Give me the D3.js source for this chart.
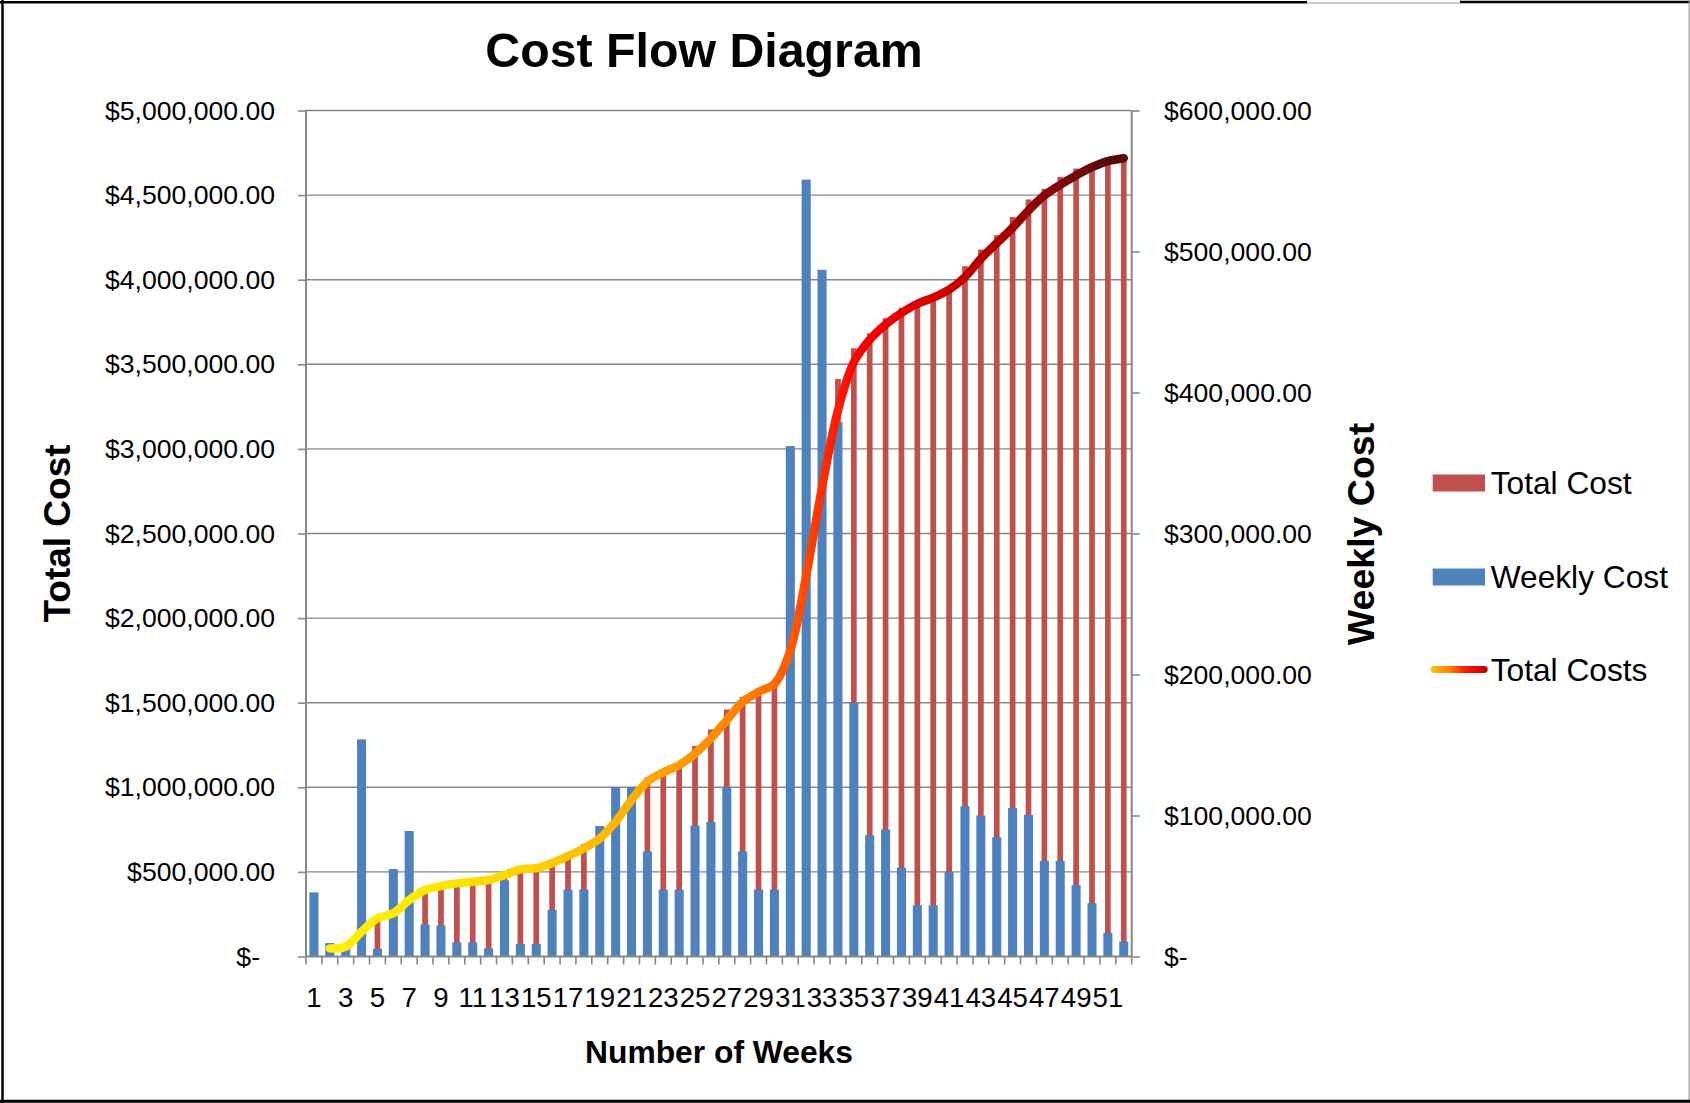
<!DOCTYPE html>
<html>
<head>
<meta charset="utf-8">
<script src="https://cdn.jsdelivr.net/npm/d3@7"></script>
<style>
  body { margin: 0; background: #fff; }
  svg { display: block; }
  text { font-family: "Liberation Sans", Arial, sans-serif; fill: #000; }
</style>
</head>
<body>
<svg id="chart" width="1690" height="1103"></svg>
<script>
// Week numbers 1..52
const weeks = d3.range(1, 53);

// Cumulative cost per week (primary axis), in dollars
const totalCost = [
  0.046, 0.052, 0.060, 0.200, 0.240, 0.290, 0.360, 0.405, 0.424, 0.437,
  0.447, 0.466, 0.500, 0.518, 0.537, 0.573, 0.615, 0.665, 0.745, 0.860,
  0.980, 1.059, 1.108, 1.150, 1.245, 1.342, 1.460, 1.535, 1.584, 1.633,
  1.990, 2.520, 3.030, 3.413, 3.595, 3.683, 3.772, 3.834, 3.863, 3.891,
  3.942, 4.080, 4.178, 4.263, 4.370, 4.474, 4.537, 4.608, 4.657, 4.687,
  4.706, 4.720
].map(v => v * 1e6);

// Spend in each week (secondary axis), in dollars
const weeklyCost = [
  45.5, 9.5, 6, 154, 5.5, 62, 89, 22.8, 22, 10,
  10, 5.8, 54, 9, 9, 33, 47.5, 47.5, 92.5, 120,
  120, 74.5, 47.5, 47.5, 92.9, 95.5, 120, 74.5, 47.5, 47.5,
  362, 551, 487, 379, 180, 86, 90, 63, 36.4, 36.4,
  60, 106.6, 100, 84.6, 105.4, 100.5, 67.8, 67.8, 50.6, 37.8,
  16.8, 10.6
].map(v => v * 1e3);

// Running total curve, weeks 2..52 (no point for week 1)
const lineWeeks = d3.range(2, 53);
const totalCostsLine = [
  0.048, 0.058, 0.147, 0.226, 0.255, 0.334, 0.393, 0.416, 0.432,
  0.442, 0.452, 0.481, 0.515, 0.522, 0.552, 0.594, 0.639, 0.698, 0.796,
  0.925, 1.033, 1.088, 1.131, 1.200, 1.289, 1.397, 1.505, 1.564, 1.612,
  1.810, 2.253, 2.775, 3.228, 3.513, 3.645, 3.735, 3.803, 3.858, 3.894,
  3.941, 4.016, 4.124, 4.216, 4.307, 4.409, 4.498, 4.561, 4.616, 4.665,
  4.701, 4.718
].map(v => v * 1e6);

// Tick values
const leftTicks = d3.range(0, 5000001, 500000);
const rightTicks = d3.range(0, 600001, 100000);
const xLabelWeeks = weeks.filter(w => w % 2 === 1);

const legendItems = ["Total Cost", "Weekly Cost", "Total Costs"];

const BLUE = "#4F81BD", RED = "#C0504D", GRID = "#878787";

const svg = d3.select("#chart");
const W = 1690, H = 1103;
const plot = { left: 306, right: 1131.7, top: 110.5, bottom: 956.5 };

const x = d3.scaleBand().domain(weeks).range([plot.left, plot.right]).paddingInner(0).paddingOuter(0);
const yL = d3.scaleLinear().domain([0, 5000000]).range([plot.bottom, plot.top]);
const yR = d3.scaleLinear().domain([0, 600000]).range([plot.bottom, plot.top]);
const bw = x.bandwidth();
const cx = w => x(w) + bw / 2;

// Frame around the whole figure
svg.append("rect").attr("width", W).attr("height", H).attr("fill", "#fff");
const frame = svg.append("g");
frame.append("line").attr("x1", 2.5).attr("x2", 2.5).attr("y1", 0).attr("y2", H)
  .attr("stroke", "#000").attr("stroke-width", 2.5);
frame.append("line").attr("x1", 0).attr("x2", 1307).attr("y1", 2.2).attr("y2", 2.2)
  .attr("stroke", "#000").attr("stroke-width", 2.5);
frame.append("line").attr("x1", 1307).attr("x2", 1460).attr("y1", 3).attr("y2", 3)
  .attr("stroke", "#9a9a9a").attr("stroke-width", 1);
frame.append("line").attr("x1", 1460).attr("x2", W).attr("y1", 2).attr("y2", 2)
  .attr("stroke", "#000").attr("stroke-width", 2.5);
frame.append("line").attr("x1", W - 0.8).attr("x2", W - 0.8).attr("y1", 0).attr("y2", H)
  .attr("stroke", "#9a9a9a").attr("stroke-width", 1.2);
frame.append("line").attr("x1", 0).attr("x2", W).attr("y1", H - 1.8).attr("y2", H - 1.8)
  .attr("stroke", "#000").attr("stroke-width", 3);

// Gradient for the running total line
const defs = svg.append("defs");
const grad = defs.append("linearGradient").attr("id", "costGrad")
  .attr("gradientUnits", "userSpaceOnUse")
  .attr("x1", cx(lineWeeks[0])).attr("x2", cx(lineWeeks[lineWeeks.length - 1]))
  .attr("y1", 0).attr("y2", 0);
const stops = [
  [0, "#FFF200"], [0.14, "#FFE600"], [0.26, "#FFD000"], [0.36, "#FFB400"],
  [0.46, "#FF9600"], [0.54, "#FF7800"], [0.59, "#FF5200"], [0.63, "#FF2400"],
  [0.67, "#FA0000"], [0.76, "#D40000"], [0.86, "#A20000"], [0.94, "#700A0A"], [1, "#4E0A0A"]
];
stops.forEach(([o, c]) => grad.append("stop").attr("offset", o).attr("stop-color", c));

const legGrad = defs.append("linearGradient").attr("id", "legGrad")
  .attr("x1", 0).attr("x2", 1).attr("y1", 0).attr("y2", 0);
[[0, "#FFC400"], [0.3, "#FF8A00"], [0.6, "#FF1E00"], [0.85, "#E00000"], [1, "#B00000"]]
  .forEach(([o, c]) => legGrad.append("stop").attr("offset", o).attr("stop-color", c));

// Horizontal gridlines
svg.append("g").selectAll("line").data(leftTicks.slice(1)).join("line")
  .attr("x1", plot.left).attr("x2", plot.right)
  .attr("y1", d => yL(d)).attr("y2", d => yL(d))
  .attr("stroke", GRID).attr("stroke-width", 1.4);

// Total cost bars (primary axis)
const redW = bw * 0.36;
svg.append("g").selectAll("rect").data(weeks).join("rect")
  .attr("x", w => cx(w) - redW / 2).attr("width", redW)
  .attr("y", (w, i) => yL(totalCost[i]))
  .attr("height", (w, i) => yL(0) - yL(totalCost[i]))
  .attr("fill", RED);

// Weekly cost bars (secondary axis)
const blueW = bw * 0.57;
svg.append("g").selectAll("rect").data(weeks).join("rect")
  .attr("x", w => cx(w) - blueW / 2).attr("width", blueW)
  .attr("y", (w, i) => yR(weeklyCost[i]))
  .attr("height", (w, i) => yR(0) - yR(weeklyCost[i]))
  .attr("fill", BLUE);

// Axes
const moneyFmt = d3.format("$,.2f");
const fmt = v => v === 0 ? "$-" : moneyFmt(v);

const leftAxis = svg.append("g").attr("transform", `translate(${plot.left},0)`)
  .call(d3.axisLeft(yL).tickValues(leftTicks).tickFormat(fmt).tickSize(8).tickPadding(23));
const rightAxis = svg.append("g").attr("transform", `translate(${plot.right},0)`)
  .call(d3.axisRight(yR).tickValues(rightTicks).tickFormat(fmt).tickSize(8).tickPadding(24.3));
[leftAxis, rightAxis].forEach(g => {
  g.select(".domain").attr("stroke", GRID).attr("stroke-width", 2)
    .attr("d", `M0,${plot.top}V${plot.bottom}`);
  g.selectAll(".tick line").attr("stroke", GRID).attr("stroke-width", 1.6);
  g.selectAll("text").attr("font-size", 26.6).attr("font-family", "Liberation Sans, Arial, sans-serif")
    .attr("fill", "#000");
});
leftAxis.selectAll(".tick text").filter(d => d === 0).attr("dx", -15);

// Bottom axis: boundary ticks and odd-week labels
const xAxis = svg.append("g").attr("transform", `translate(0,${plot.bottom})`)
  .call(d3.axisBottom(x).tickValues(xLabelWeeks).tickSize(0).tickPadding(30.8));
xAxis.select(".domain").attr("stroke", GRID).attr("stroke-width", 2)
  .attr("d", `M${plot.left},0H${plot.right}`);
xAxis.selectAll("text").attr("font-size", 27.6).attr("font-family", "Liberation Sans, Arial, sans-serif")
  .attr("fill", "#000");
svg.append("g").selectAll("line").data(weeks.concat([null])).join("line")
  .attr("x1", w => w === null ? plot.right : x(w))
  .attr("x2", w => w === null ? plot.right : x(w))
  .attr("y1", plot.bottom).attr("y2", plot.bottom + 8)
  .attr("stroke", GRID).attr("stroke-width", 1.6);

// Running total line
const line = d3.line()
  .x((d, i) => cx(lineWeeks[i]))
  .y(d => yL(d))
  .curve(d3.curveCatmullRom.alpha(0.5));
svg.append("path").datum(totalCostsLine)
  .attr("d", line)
  .attr("fill", "none")
  .attr("stroke", "url(#costGrad)")
  .attr("stroke-width", 8.5)
  .attr("stroke-linecap", "round")
  .attr("stroke-linejoin", "round");

// Titles
svg.append("text").attr("x", 704).attr("y", 66.5).attr("text-anchor", "middle")
  .attr("font-size", 48.3).attr("font-weight", "bold").text("Cost Flow Diagram");
svg.append("text").attr("x", 719).attr("y", 1062.5).attr("text-anchor", "middle")
  .attr("font-size", 31.8).attr("font-weight", "bold").text("Number of Weeks");
svg.append("text").attr("transform", "translate(70,533.5) rotate(-90)").attr("text-anchor", "middle")
  .attr("font-size", 37).attr("font-weight", "bold").text("Total Cost");
svg.append("text").attr("transform", "translate(1374,534) rotate(-90)").attr("text-anchor", "middle")
  .attr("font-size", 37.5).attr("font-weight", "bold").text("Weekly Cost");

// Legend
const leg = svg.append("g");
const legY = [483, 577, 669.5];
leg.append("rect").attr("x", 1432.7).attr("y", legY[0] - 8.5).attr("width", 52.3).attr("height", 17).attr("fill", RED);
leg.append("rect").attr("x", 1432.7).attr("y", legY[1] - 8.5).attr("width", 52.3).attr("height", 17).attr("fill", BLUE);
leg.append("rect").attr("x", 1430.7).attr("y", legY[2] - 3.4).attr("width", 57).attr("height", 6.8)
  .attr("rx", 3.4).attr("fill", "url(#legGrad)");
leg.selectAll("text").data(legendItems).join("text")
  .attr("x", 1490.7).attr("y", (d, i) => legY[i] + 11)
  .attr("font-size", 31.7).text(d => d);
</script>
</body>
</html>
